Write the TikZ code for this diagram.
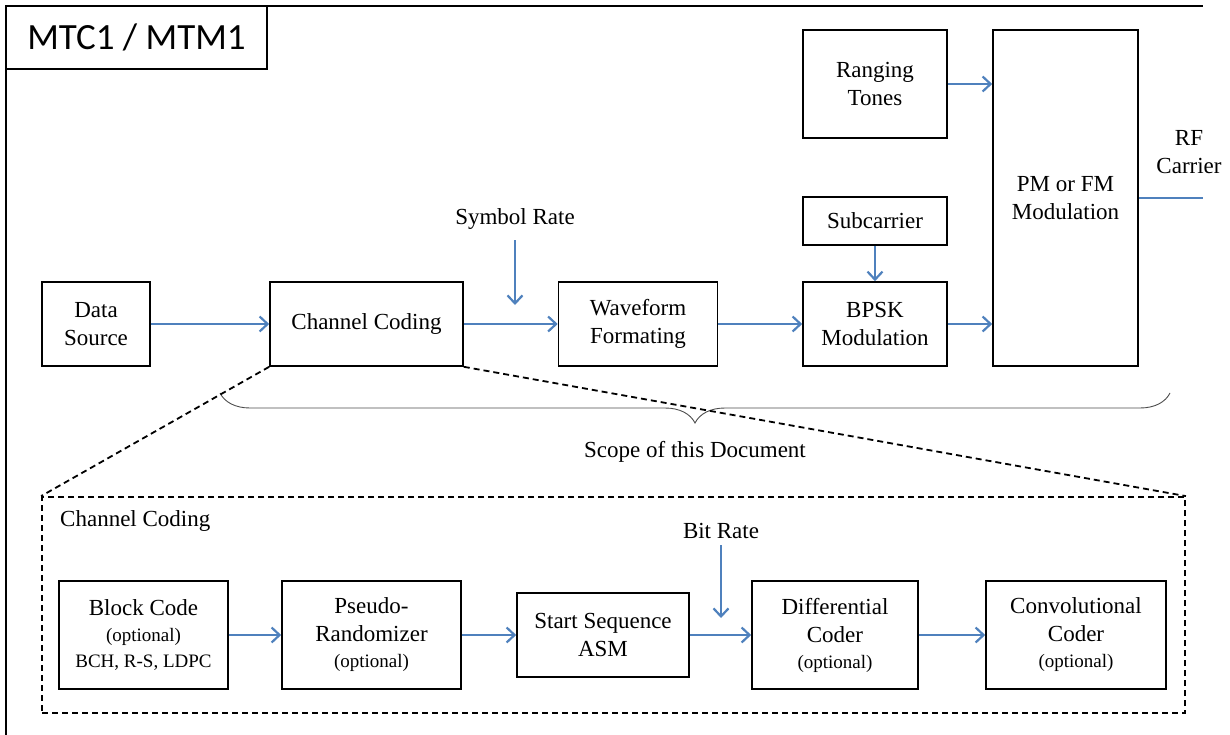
\documentclass[tikz,border=0pt]{standalone}
\usepackage{fontspec}
\setmainfont{Liberation Serif}
\newfontfamily\titlefont{Carlito}
\usetikzlibrary{arrows.meta,decorations.pathreplacing,calc}
\definecolor{arrowblue}{RGB}{79,129,189}
\newcommand{\mainsz}{\fontsize{23}{28}\selectfont}
\newcommand{\smallsz}{\fontsize{19}{23}\selectfont}
\begin{document}
\begin{tikzpicture}[x=1pt,y=-1pt,
  blockbox/.style={draw, line width=1.6pt, inner sep=0pt, align=center, font=\mainsz},
  lbl/.style={inner sep=0pt, align=center, font=\mainsz},
  arr/.style={draw=arrowblue, line width=2.2pt, -{Straight Barb[length=8pt,width=15pt]}},
  wire/.style={draw=arrowblue, line width=2.2pt},
  dashline/.style={draw=black, line width=1.8pt, dash pattern=on 6pt off 4pt}
]
\useasboundingbox (0,0) rectangle (1230,735);
% outer frame
\draw[line width=2.6pt] (6,735) -- (6,6) -- (1203,6);
\node[draw, line width=2.2pt, minimum width=261pt, minimum height=63pt, inner sep=0pt, font=\titlefont\fontsize{37}{42}\selectfont] (title) at (136.5,37.5) {MTC1 / MTM1};

% top row
\node[blockbox, minimum width=108pt, minimum height=84pt] (ds) at (96,324) {Data\\Source};
\node[blockbox, minimum width=193pt, minimum height=84pt] (cc) at (366.5,324) {Channel Coding};
\node[blockbox, minimum width=159pt, minimum height=84pt] (wf) at (638,324) {Waveform\\Formating};
\node[blockbox, minimum width=144pt, minimum height=84pt] (bpsk) at (875,324) {BPSK\\Modulation};
\node[blockbox, minimum width=144pt, minimum height=48pt] (sub) at (875,221) {Subcarrier};
\node[blockbox, minimum width=144pt, minimum height=108pt] (rt) at (875,84) {Ranging\\Tones};
\node[blockbox, minimum width=145pt, minimum height=336pt] (pm) at (1065.5,198) {PM or FM\\Modulation};
\node[lbl] (rf) at (1189,152) {RF\\Carrier};
\coordinate (rfend) at (1203,198);

\node[lbl] (symr) at (515,219) {Symbol Rate};
\coordinate (symtop) at (515,240);
\coordinate (symbot) at (515,305);

\draw[arr] (ds) -- (cc);
\draw[arr] (cc) -- (wf);
\draw[arr] (wf) -- (bpsk);
\draw[arr] (sub) -- (bpsk);
\draw[arr] (bpsk.east) -- (bpsk.east -| pm.west);
\draw[arr] (rt.east) -- (rt.east -| pm.west);
\draw[wire] (pm.east |- rfend) -- (rfend);
\draw[arr] (symtop) -- (symbot);

% brace
\coordinate (brl) at (220,393);
\coordinate (brr) at (1170,393);
\draw[decorate, decoration={brace, mirror, amplitude=30pt}, draw=black!70, line width=0.9pt] (brl) -- (brr);
\node[lbl] (scope) at (695,452) {Scope of this Document};

% channel coding detail
\node[draw, dashline, minimum width=1143pt, minimum height=216pt, inner sep=0pt] (cbox) at (613.5,605) {};
\draw[dashline] (cc.south west) -- (cbox.north west);
\draw[dashline] (cc.south east) -- (cbox.north east);
\node[lbl, anchor=west] (cclbl) at (60,521) {Channel Coding};

\node[blockbox, minimum width=169pt, minimum height=108pt] (bc) at (143.5,635) {Block Code\\[-2pt]{\smallsz (optional)}\\[-2pt]{\smallsz BCH, R-S, LDPC}};
\node[blockbox, minimum width=179pt, minimum height=108pt] (pr) at (371.5,635) {Pseudo-\\Randomizer\\[-2pt]{\smallsz (optional)}};
\node[blockbox, minimum width=172pt, minimum height=84pt] (ss) at (603,635) {Start Sequence\\ASM};
\node[blockbox, minimum width=166pt, minimum height=108pt] (dc) at (835,635) {Differential\\Coder\\[-2pt]{\smallsz (optional)}};
\node[blockbox, minimum width=180pt, minimum height=108pt] (cv) at (1076,635) {Convolutional\\Coder\\[-2pt]{\smallsz (optional)}};

\node[lbl] (bitr) at (721,531) {Bit Rate};
\coordinate (bittop) at (721,545);
\coordinate (bitbot) at (721,618);

\draw[arr] (bc) -- (pr);
\draw[arr] (pr) -- (ss);
\draw[arr] (ss) -- (dc);
\draw[arr] (dc) -- (cv);
\draw[arr] (bittop) -- (bitbot);
\end{tikzpicture}
\end{document}
